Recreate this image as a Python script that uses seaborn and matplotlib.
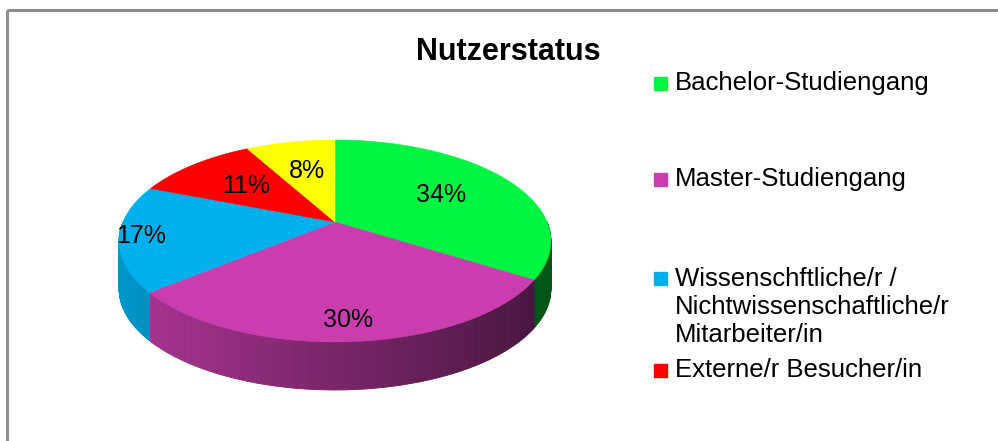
import numpy as np
import matplotlib
matplotlib.use("Agg")
import matplotlib.pyplot as plt
import matplotlib.colors as mcolors
from matplotlib.collections import PolyCollection
from matplotlib.patches import Rectangle
import seaborn as sns

# Daten
categories = ["Bachelor-Studiengang", "Master-Studiengang",
              "Wissenschftliche/r /\nNichtwissenschaftliche/r\nMitarbeiter/in",
              "Externe/r Besucher/in", "Sonstige"]
shares = [34, 30, 17, 11, 8]
colors = ["#00F542", "#C93DAE", "#00B0EC", "#FF0000", "#FFFF00"]

# Layout (Pixel)
CX, CY = 335, 222          # Mittelpunkt der Oberseite
RX, RY = 212, 97.4         # Halbachsen
K = 0.188                  # Perspektive
DEPTH = 48                 # Dicke der Scheibe
label_r = [0.6, 0.85, 0.9, 0.6, 0.6]
legend_y = [83, 179, 307, 370]

sns.set_theme(style="white")
plt.rcParams['font.family'] = ['Liberation Sans', 'DejaVu Sans']
plt.rcParams['text.color'] = 'black'

fig = plt.figure(figsize=(9.98, 4.41), dpi=100)
ax = fig.add_axes([0, 0, 1, 1])
ax.set_xlim(0, 998)
ax.set_ylim(441, 0)
ax.axis('off')


def project(t, r=1.0):
    u = r * np.cos(t)
    v = r * np.sin(t)
    s = 1 / (1 + K * v)
    return CX + RX * u * s, CY - RY * v * s


frac = np.array(shares) / sum(shares)
bounds = np.radians(90 - 360 * np.concatenate([[0], np.cumsum(frac)]))

# Seitenflaeche (nur vorne sichtbar), mit Farbverlauf
polys, fcs = [], []
for i, c in enumerate(colors):
    base = np.array(mcolors.to_rgb(c))
    t = np.linspace(bounds[i + 1], bounds[i], 200)
    for a, b in zip(t[:-1], t[1:]):
        if np.sin((a + b) / 2) >= 0:
            continue
        xa, ya = project(a)
        xb, yb = project(b)
        polys.append([(xa, ya), (xb, yb), (xb, yb + DEPTH), (xa, ya + DEPTH)])
        f = 0.85 - 0.5 * ((xa + xb) / 2 - (CX - RX)) / (2 * RX)
        fcs.append(base * f)
ax.add_collection(PolyCollection(polys, facecolors=fcs, edgecolors=fcs, linewidths=0.6))

# Oberseite
for i, c in enumerate(colors):
    t = np.linspace(bounds[i], bounds[i + 1], 120)
    xs, ys = project(t)
    ax.fill(np.r_[CX, xs], np.r_[CY, ys], color=c, ec=c, lw=0.4)
    mid = (bounds[i] + bounds[i + 1]) / 2
    lx, ly = project(mid, label_r[i])
    ax.text(lx, ly, f"{shares[i]}%", ha='center', va='center', fontsize=18, color='black')

# Titel
ax.text(508, 52, "Nutzerstatus", ha='center', va='center', fontsize=22,
        fontweight='bold', color='black')

# Legende (nur die sichtbaren Eintraege)
for name, c, y in zip(categories[:4], colors[:4], legend_y):
    y0 = y if "\n" not in name else y - 29
    ax.add_patch(Rectangle((654, y0 - 6.5), 13, 13, color=c))
    ax.text(675, y, name, ha='left', va='center', fontsize=18.5, linespacing=1.2,
            color='black')

# Rahmen
ax.add_patch(Rectangle((7, 10), 1100, 500, fill=False, ec='#8c8c8c', lw=2.2))

fig.savefig("out.png", dpi=100)
